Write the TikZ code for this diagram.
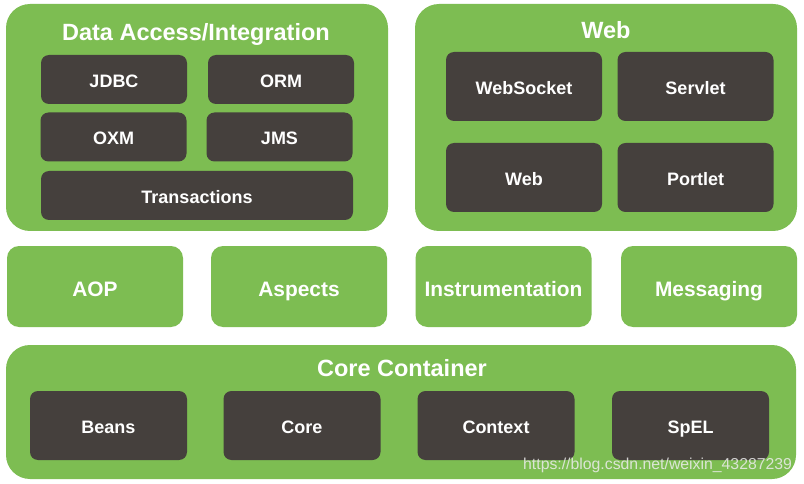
\documentclass[tikz,border=0pt]{standalone}
\usepackage{fontspec}
\setmainfont{Liberation Sans}
\definecolor{springgreen}{HTML}{7DBD52}
\definecolor{darkbox}{HTML}{45403D}
\begin{document}
\begin{tikzpicture}[x=1pt,y=-1pt,
  groupbox/.style={fill=springgreen, draw=none, rounded corners=24pt, inner sep=0pt},
  midbox/.style={fill=springgreen, draw=none, rounded corners=12pt, inner sep=0pt,
     text=white, font=\bfseries\fontsize{20.9}{24}\selectfont, text height=19pt, text depth=0pt},
  darkbox/.style={fill=darkbox, draw=none, rounded corners=8pt, inner sep=0pt,
     text=white, font=\bfseries\fontsize{18}{21}\selectfont, text height=16pt, text depth=0pt},
  grouptitle/.style={text=white, font=\bfseries\fontsize{23.5}{27}\selectfont, inner sep=0pt, anchor=base},
  watermark/.style={text=gray!15, opacity=0.85, font=\fontsize{15.8}{18}\selectfont, inner sep=0pt, anchor=base west}
]
\useasboundingbox[fill=white] (0,0) rectangle (804,484);

% Data Access / Integration
\node[groupbox, minimum width=382, minimum height=227] (da) at (197,117.5) {};
\node[grouptitle] (datitle) at (196,41) {Data Access/Integration};
\node[darkbox, minimum width=146, minimum height=49] (jdbc) at (114,79.5) {JDBC};
\node[darkbox, minimum width=146, minimum height=49] (orm) at (281,79.5) {ORM};
\node[darkbox, minimum width=146, minimum height=49] (oxm) at (113.5,137) {OXM};
\node[darkbox, minimum width=146, minimum height=49] (jms) at (279.5,137) {JMS};
\node[darkbox, minimum width=312, minimum height=49] (tx) at (197,195.5) {Transactions};

% Web
\node[groupbox, minimum width=382, minimum height=227] (webgrp) at (606,117.5) {};
\node[grouptitle] (webtitle) at (606,38.5) {Web};
\node[darkbox, minimum width=156, minimum height=69] (websocket) at (524,86.5) {WebSocket};
\node[darkbox, minimum width=156, minimum height=69] (servlet) at (695.5,86.5) {Servlet};
\node[darkbox, minimum width=156, minimum height=69] (web) at (524,177.5) {Web};
\node[darkbox, minimum width=156, minimum height=69] (portlet) at (695.5,177.5) {Portlet};

% Middle row
\node[midbox, minimum width=176, minimum height=81] (aop) at (95,286.5) {AOP};
\node[midbox, minimum width=176, minimum height=81] (aspects) at (299,286.5) {Aspects};
\node[midbox, minimum width=176, minimum height=81] (instr) at (503.5,286.5) {Instrumentation};
\node[midbox, minimum width=176, minimum height=81] (msg) at (709,286.5) {Messaging};

% Core Container
\node[groupbox, minimum width=790, minimum height=134] (core) at (401,412) {};
\node[grouptitle] (coretitle) at (402,376) {Core Container};
\node[darkbox, minimum width=157, minimum height=69] (beans) at (108.5,425.5) {Beans};
\node[darkbox, minimum width=157, minimum height=69] (corebox) at (302,425.5) {Core};
\node[darkbox, minimum width=157, minimum height=69] (context) at (496,425.5) {Context};
\node[darkbox, minimum width=157, minimum height=69] (spel) at (690.5,425.5) {SpEL};

% watermark
\node[watermark] (wm) at (523,469) {https://blog.csdn.net/weixin\_43287239};
\end{tikzpicture}
\end{document}
